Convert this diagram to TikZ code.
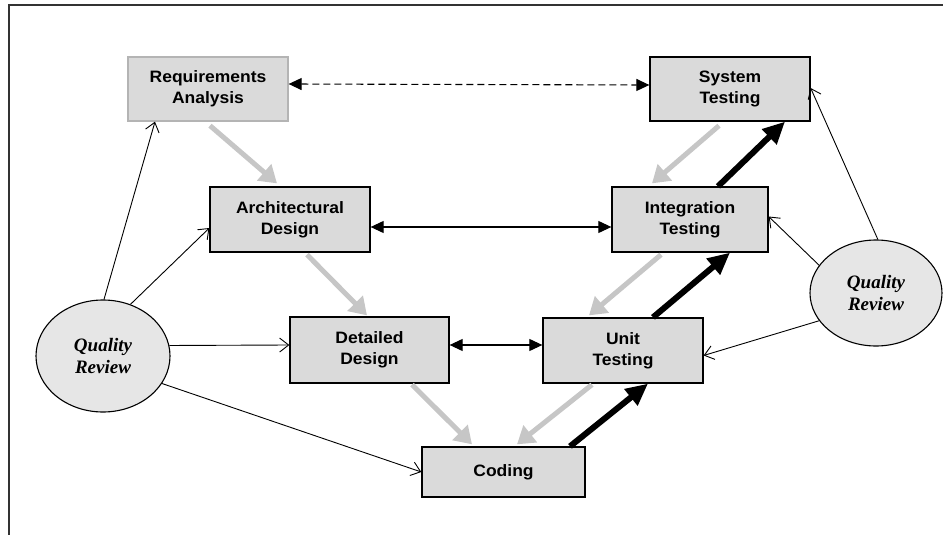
\documentclass[tikz,border=0pt]{standalone}
\usepackage{fontspec}
\usetikzlibrary{arrows.meta,shapes.geometric}
\newfontfamily\boxfont[FakeStretch=1.06]{Liberation Sans}
\newfontfamily\reviewfont{Liberation Serif}
\definecolor{boxfill}{HTML}{DADADA}
\definecolor{ovalfill}{HTML}{E6E6E6}
\definecolor{flowgray}{HTML}{C6C6C6}
\definecolor{softedge}{HTML}{B4B4B4}
\tikzset{
  phase/.style={rectangle, draw=black, line width=1.3pt, fill=boxfill,
    inner sep=0pt, align=center,
    font=\boxfont\bfseries\fontsize{16.5}{21}\selectfont},
  review/.style={ellipse, draw=black, line width=1.1pt, fill=ovalfill,
    inner sep=0pt, align=center,
    font=\reviewfont\bfseries\itshape\fontsize{19}{22}\selectfont},
  downflow/.style={draw=flowgray, line width=5pt,
    -{Triangle[length=17pt,width=21pt,fill=flowgray]}},
  upflow/.style={draw=black, line width=6pt,
    -{Triangle[length=22pt,width=20pt]}},
  pairlink/.style={draw=black, line width=1.1pt,
    {Triangle[length=13pt,width=12pt]}-{Triangle[length=13pt,width=12pt]}},
  checks/.style={draw=black, line width=0.9pt,
    -{Straight Barb[length=9pt,width=14pt]}}
}
\begin{document}
\begin{tikzpicture}[x=1pt,y=-1pt]
\useasboundingbox (0,0) rectangle (943,535);
% frame edges
\draw[line width=1.5pt, black!80] (943,5) -- (9,5) -- (9,535);

% development and testing phases
\node[phase, draw=softedge, minimum width=160pt, minimum height=64pt] (req) at (208,89) {Requirements\\Analysis};
\node[phase, minimum width=160pt, minimum height=65pt] (arch) at (290,219.5) {Architectural\\Design};
\node[phase, minimum width=159pt, minimum height=66pt] (det) at (369.5,350) {Detailed\\Design};
\node[phase, minimum width=163pt, minimum height=50pt] (cod) at (503.5,472) {Coding};
\node[phase, minimum width=160pt, minimum height=65pt] (unit) at (623,350.5) {Unit\\Testing};
\node[phase, minimum width=156pt, minimum height=65pt] (integ) at (690,219.5) {Integration\\Testing};
\node[phase, minimum width=160pt, minimum height=64pt] (sys) at (730,89) {System\\Testing};

% quality reviews
\node[review, minimum width=134pt, minimum height=112pt] (qrl) at (103,356) {Quality\\Review};
\node[review, minimum width=132pt, minimum height=106pt] (qrr) at (876,293) {Quality\\Review};

% descending flow
\draw[downflow] ([xshift=2pt,yshift=-4pt]req.south) -- ([xshift=-13pt,yshift=3pt]arch.north);
\draw[downflow] ([xshift=17pt,yshift=-2pt]arch.south) -- ([xshift=-2.5pt,yshift=1pt]det.north);
\draw[downflow] ([xshift=42.5pt,yshift=-1pt]det.south) -- ([xshift=-31.5pt,yshift=2pt]cod.north);
\draw[downflow] ([xshift=-11pt,yshift=-4pt]sys.south) -- ([xshift=-38pt,yshift=3pt]integ.north);
\draw[downflow] ([xshift=-29pt,yshift=-2pt]integ.south) -- ([xshift=-34pt,yshift=2pt]unit.north);
\draw[downflow] ([xshift=-31pt,yshift=-1pt]unit.south) -- ([xshift=13.5pt,yshift=2pt]cod.north);

% ascending flow
\draw[upflow] ([xshift=66.5pt]cod.north) -- ([xshift=25pt]unit.south);
\draw[upflow] ([xshift=30pt]unit.north) -- ([xshift=40pt]integ.south);
\draw[upflow] ([xshift=28pt]integ.north) -- ([xshift=55pt]sys.south);

% level correspondences
\draw[pairlink, dash pattern=on 7pt off 4pt] ([yshift=5pt]req.east) -- ([yshift=4pt]sys.west);
\draw[pairlink] ([yshift=-7.5pt]arch.east) -- ([yshift=-7.5pt]integ.west);
\draw[pairlink] ([yshift=5pt]det.east) -- ([yshift=5.5pt]unit.west);

% review checks
\draw[checks] (qrl.89) -- ([xshift=-53pt]req.south);
\draw[checks] (qrl.62) -- ([yshift=-8.5pt]arch.west);
\draw[checks] (qrl.9.3) -- ([yshift=5pt]det.west);
\draw[checks] (qrl.-25) -- (cod.west);
\draw[checks] (qrr.88) -- ([yshift=1pt]sys.east);
\draw[checks] (qrr.154) -- ([yshift=3pt]integ.east);
\draw[checks] (qrr.206) -- ([yshift=-5pt]unit.east);
\end{tikzpicture}
\end{document}
